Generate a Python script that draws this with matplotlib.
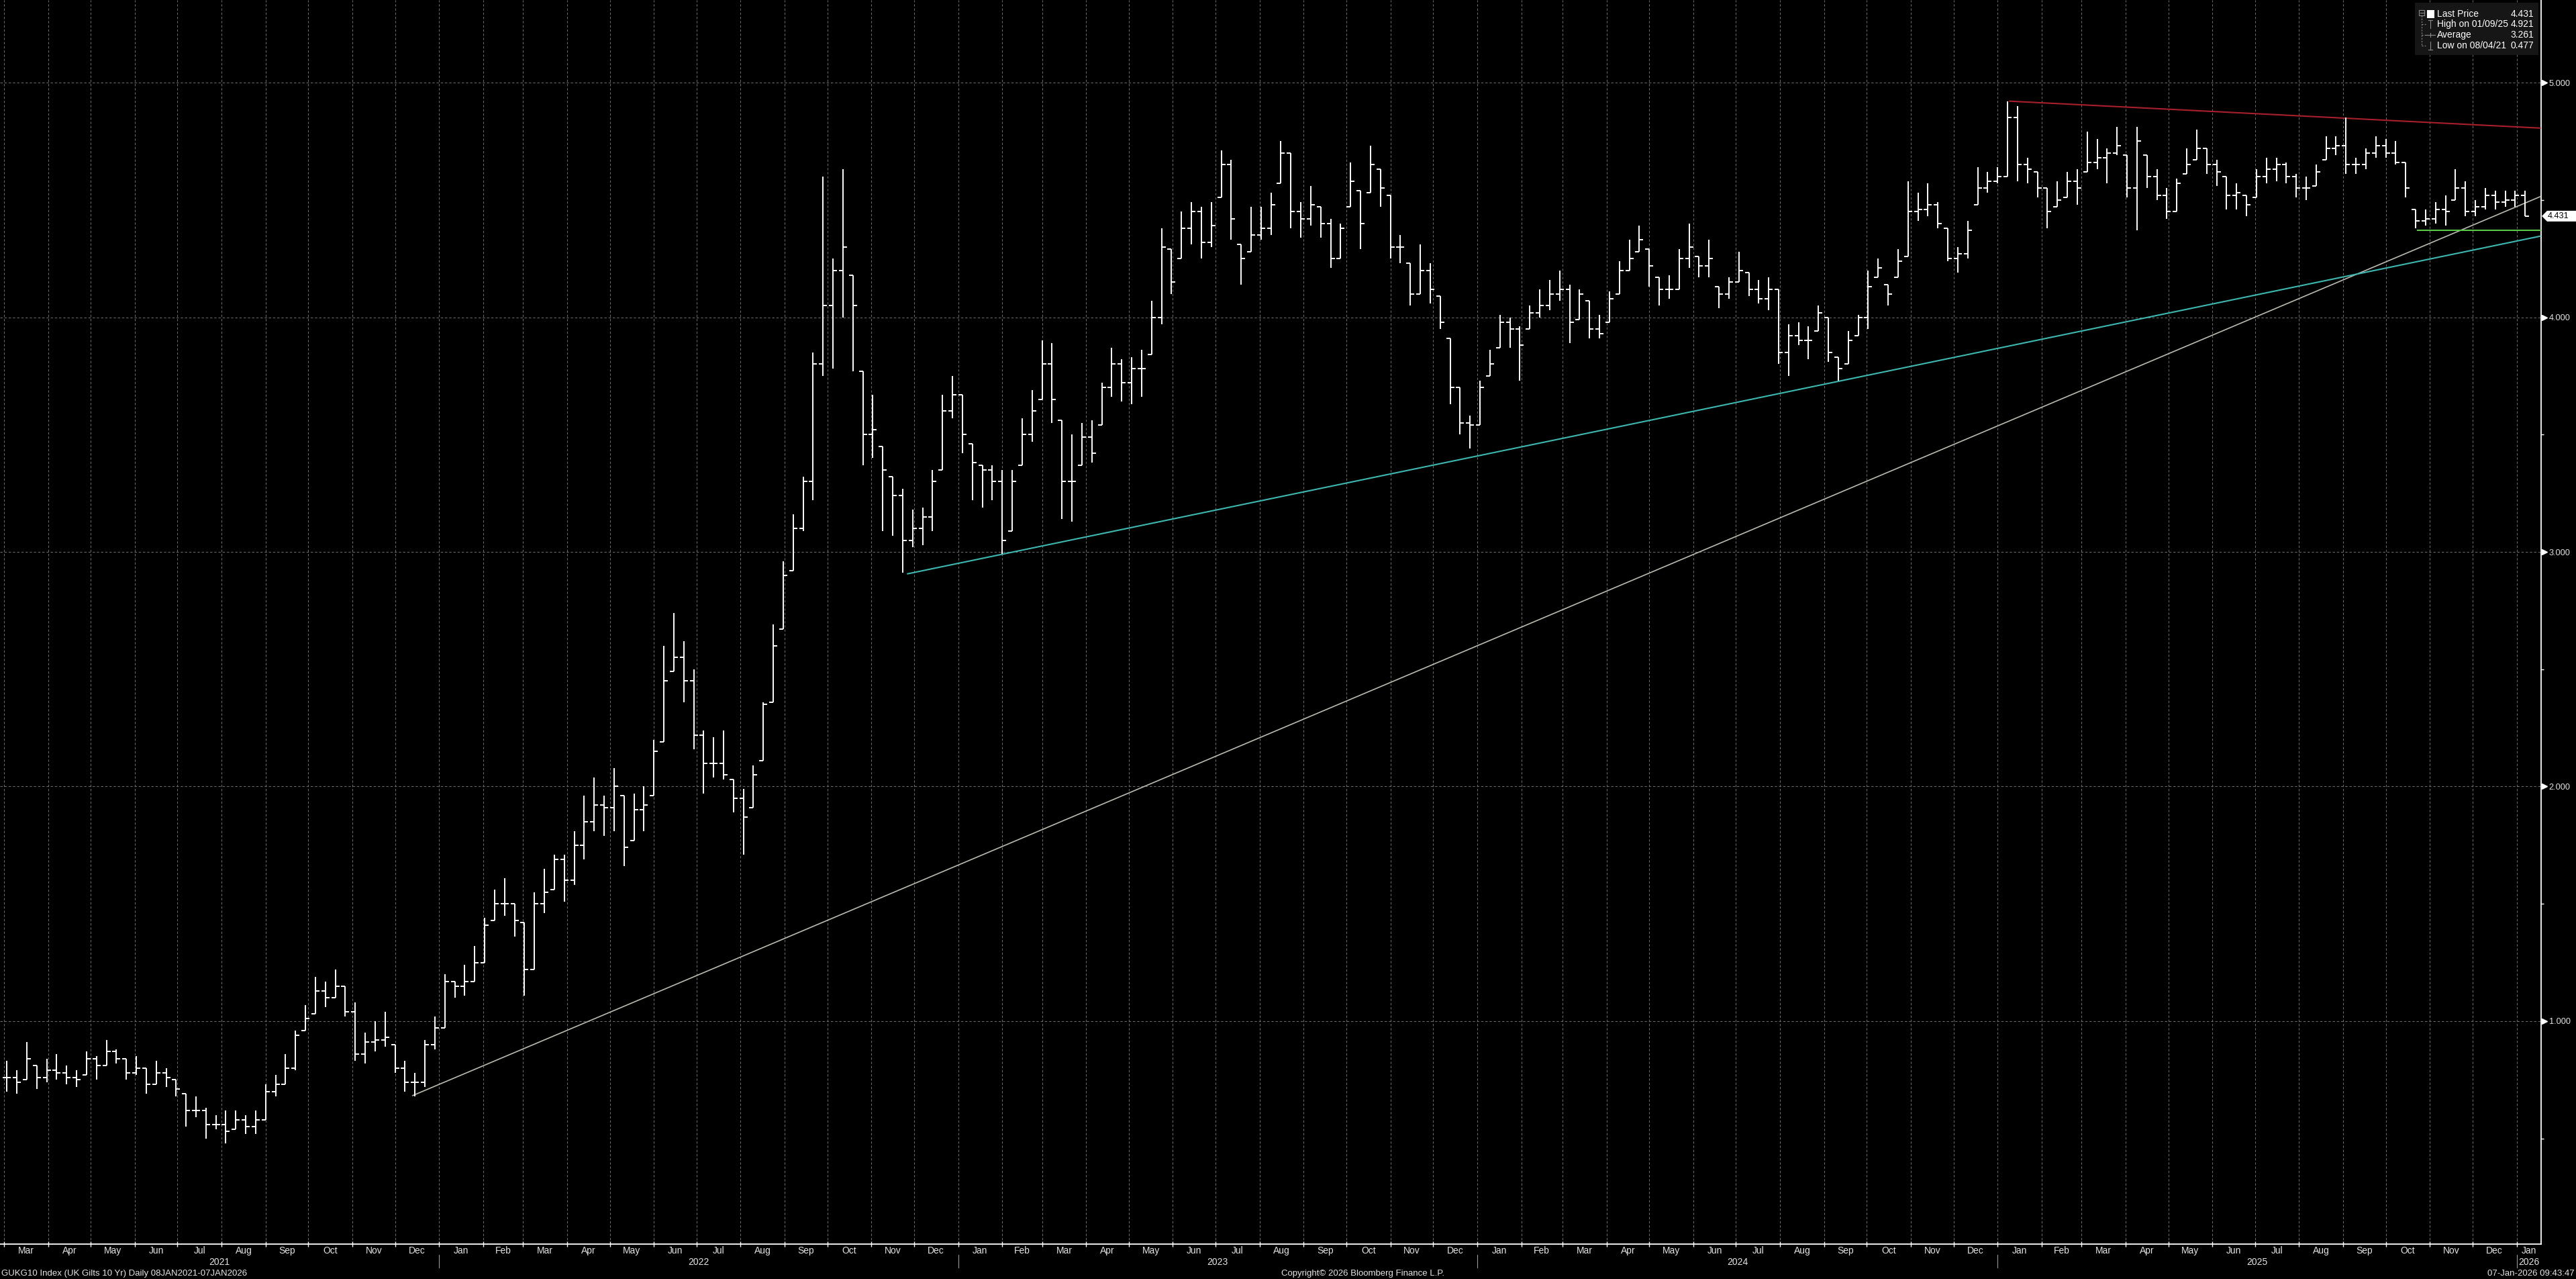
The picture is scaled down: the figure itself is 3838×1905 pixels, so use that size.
import numpy as np
import pandas as pd
import matplotlib
matplotlib.use("Agg")
import matplotlib.pyplot as plt
import matplotlib.dates as mdates
from matplotlib.transforms import blended_transform_factory
from matplotlib.patches import Rectangle, Polygon
from matplotlib.lines import Line2D

plt.rcParams['lines.scale_dashes'] = False

# ---------------- data (weekly OHLC; weeks start Monday) -------------
first_week = "2021-03-01"

hi_2021 = [0.83, 0.79, 0.91, 0.81, 0.84, 0.86, 0.81, 0.79, 0.87, 0.85, 0.92, 0.88, 0.84, 0.85,
           0.80, 0.83, 0.80, 0.75, 0.69, 0.68, 0.63, 0.60, 0.62, 0.62, 0.60, 0.62, 0.73,
           0.77, 0.86, 0.96, 1.07, 1.19, 1.17, 1.22, 1.15, 1.08, 0.95, 1.00, 1.04, 0.90,
           0.83, 0.78, 0.92, 1.02]
lo_2021 = [0.70, 0.69, 0.75, 0.71, 0.74, 0.75, 0.73, 0.72, 0.77, 0.75, 0.81, 0.82, 0.75, 0.77,
           0.69, 0.73, 0.72, 0.68, 0.55, 0.59, 0.50, 0.54, 0.48, 0.54, 0.52, 0.52, 0.58,
           0.68, 0.73, 0.79, 0.96, 1.03, 1.06, 1.10, 1.02, 0.83, 0.82, 0.87, 0.89, 0.78,
           0.70, 0.68, 0.72, 0.88]
cl_2021 = [0.76, 0.74, 0.84, 0.76, 0.79, 0.78, 0.76, 0.75, 0.84, 0.81, 0.87, 0.84, 0.78, 0.80,
           0.73, 0.78, 0.76, 0.71, 0.62, 0.62, 0.56, 0.56, 0.53, 0.58, 0.55, 0.58, 0.70,
           0.73, 0.80, 0.94, 1.01, 1.13, 1.10, 1.15, 1.04, 0.86, 0.91, 0.92, 0.93, 0.80,
           0.74, 0.74, 0.90, 0.97]

hi_2022 = [1.20, 1.17, 1.24, 1.32, 1.44, 1.56, 1.61, 1.50, 1.42, 1.55, 1.65, 1.71, 1.71,
           1.81, 1.96, 2.04, 1.96, 2.08, 1.96, 1.97, 2.00, 2.20, 2.60, 2.74, 2.62, 2.50,
           2.24, 2.21, 2.24, 2.03, 1.99, 2.09, 2.36, 2.69, 2.96, 3.16, 3.32, 3.85, 4.60,
           4.25, 4.63, 4.18, 3.77, 3.67, 3.45, 3.32, 3.27, 3.18, 3.19, 3.35, 3.67, 3.75]
lo_2022 = [0.97, 1.10, 1.11, 1.17, 1.25, 1.43, 1.45, 1.36, 1.11, 1.22, 1.46, 1.56, 1.51,
           1.58, 1.69, 1.81, 1.79, 1.81, 1.66, 1.77, 1.81, 1.96, 2.19, 2.49, 2.36, 2.16,
           1.97, 2.04, 2.03, 1.89, 1.71, 1.91, 2.11, 2.36, 2.67, 2.92, 3.09, 3.22, 3.75,
           3.78, 4.00, 3.77, 3.37, 3.40, 3.09, 3.07, 2.91, 3.02, 3.03, 3.09, 3.35, 3.57]
cl_2022 = [1.17, 1.15, 1.17, 1.25, 1.41, 1.50, 1.50, 1.43, 1.22, 1.50, 1.55, 1.69, 1.60,
           1.75, 1.85, 1.92, 1.91, 2.00, 1.74, 1.90, 1.92, 2.15, 2.45, 2.55, 2.45, 2.22,
           2.10, 2.10, 2.05, 1.95, 1.87, 2.05, 2.35, 2.60, 2.90, 3.10, 3.30, 3.80, 4.05,
           4.20, 4.30, 4.05, 3.50, 3.52, 3.35, 3.24, 3.05, 3.10, 3.15, 3.30, 3.60, 3.67]

hi_2023 = [3.67, 3.46, 3.37, 3.37, 3.35, 3.35, 3.57, 3.69, 3.90, 3.89, 3.56, 3.50, 3.55,
           3.56, 3.72, 3.87, 3.82, 3.83, 3.86, 4.07, 4.38, 4.29, 4.45, 4.49, 4.47, 4.49,
           4.71, 4.67, 4.31, 4.47, 4.47, 4.53, 4.75, 4.70, 4.49, 4.56, 4.47, 4.42, 4.40,
           4.66, 4.54, 4.73, 4.63, 4.52, 4.35, 4.23, 4.31, 4.23, 4.09, 3.91, 3.70, 3.58]
lo_2023 = [3.42, 3.22, 3.19, 3.22, 2.99, 3.09, 3.37, 3.47, 3.65, 3.55, 3.14, 3.13, 3.37,
           3.38, 3.54, 3.66, 3.64, 3.63, 3.66, 3.84, 3.97, 4.10, 4.25, 4.31, 4.25, 4.30,
           4.51, 4.33, 4.14, 4.28, 4.33, 4.35, 4.57, 4.38, 4.34, 4.39, 4.34, 4.21, 4.25,
           4.47, 4.29, 4.53, 4.47, 4.25, 4.23, 4.05, 4.10, 4.06, 3.95, 3.63, 3.50, 3.44]
cl_2023 = [3.50, 3.38, 3.35, 3.30, 3.05, 3.30, 3.50, 3.60, 3.80, 3.65, 3.30, 3.30, 3.49,
           3.42, 3.70, 3.80, 3.72, 3.78, 3.78, 4.00, 4.30, 4.15, 4.38, 4.45, 4.32, 4.39,
           4.65, 4.42, 4.25, 4.35, 4.38, 4.48, 4.70, 4.45, 4.42, 4.48, 4.40, 4.25, 4.38,
           4.58, 4.40, 4.65, 4.55, 4.30, 4.30, 4.10, 4.20, 4.12, 3.98, 3.70, 3.55, 3.54]

hi_2024 = [3.73, 3.86, 4.01, 4.00, 3.96, 4.05, 4.12, 4.16, 4.20, 4.14, 4.12, 4.07, 4.01,
           4.11, 4.24, 4.33, 4.39, 4.29, 4.17, 4.18, 4.29, 4.40, 4.26, 4.33, 4.13, 4.17,
           4.28, 4.19, 4.16, 4.17, 4.12, 3.97, 3.98, 3.96, 4.05, 4.00, 3.83, 3.94, 4.01,
           4.20, 4.25, 4.14, 4.29, 4.58, 4.53, 4.57, 4.49, 4.38, 4.30, 4.41, 4.64, 4.62, 4.64]
lo_2024 = [3.54, 3.75, 3.87, 3.87, 3.73, 3.95, 4.00, 4.03, 4.07, 3.89, 3.99, 3.91, 3.91,
           3.98, 4.10, 4.20, 4.28, 4.13, 4.05, 4.08, 4.12, 4.21, 4.17, 4.17, 4.04, 4.08,
           4.15, 4.09, 4.06, 4.03, 3.80, 3.75, 3.88, 3.82, 3.94, 3.81, 3.73, 3.80, 3.92,
           3.95, 4.17, 4.05, 4.17, 4.26, 4.41, 4.43, 4.38, 4.24, 4.19, 4.25, 4.48, 4.53, 4.57]
cl_2024 = [3.70, 3.80, 3.98, 3.95, 3.88, 4.02, 4.05, 4.10, 4.12, 3.98, 4.10, 3.95, 3.93,
           4.08, 4.20, 4.25, 4.33, 4.22, 4.12, 4.12, 4.25, 4.30, 4.22, 4.25, 4.10, 4.15,
           4.20, 4.12, 4.08, 4.12, 3.85, 3.92, 3.90, 3.90, 4.02, 3.85, 3.78, 3.90, 4.00,
           4.13, 4.21, 4.10, 4.24, 4.45, 4.46, 4.48, 4.40, 4.25, 4.27, 4.37, 4.55, 4.58, 4.60]

hi_2025 = [4.92, 4.90, 4.68, 4.62, 4.55, 4.58, 4.62, 4.63, 4.79, 4.76, 4.72, 4.81, 4.69,
           4.81, 4.69, 4.63, 4.55, 4.59, 4.72, 4.80, 4.72, 4.67, 4.60, 4.57, 4.52, 4.63,
           4.68, 4.68, 4.66, 4.61, 4.60, 4.65, 4.77, 4.77, 4.85, 4.68, 4.72, 4.77, 4.76,
           4.75, 4.66, 4.46, 4.46, 4.49, 4.52, 4.63, 4.58, 4.50, 4.55, 4.54, 4.54, 4.54]
lo_2025 = [4.60, 4.58, 4.57, 4.51, 4.38, 4.47, 4.51, 4.48, 4.62, 4.63, 4.57, 4.69, 4.51,
           4.37, 4.55, 4.50, 4.42, 4.45, 4.61, 4.67, 4.61, 4.56, 4.46, 4.46, 4.43, 4.51,
           4.57, 4.58, 4.57, 4.51, 4.50, 4.56, 4.67, 4.69, 4.61, 4.61, 4.63, 4.68, 4.68,
           4.65, 4.51, 4.38, 4.39, 4.40, 4.39, 4.50, 4.43, 4.43, 4.46, 4.46, 4.47, 4.47]
cl_2025 = [4.85, 4.65, 4.63, 4.55, 4.45, 4.50, 4.58, 4.55, 4.66, 4.68, 4.70, 4.73, 4.55,
           4.75, 4.60, 4.52, 4.45, 4.57, 4.65, 4.72, 4.65, 4.62, 4.52, 4.53, 4.48, 4.60,
           4.63, 4.65, 4.60, 4.55, 4.55, 4.62, 4.72, 4.73, 4.65, 4.65, 4.70, 4.73, 4.70,
           4.66, 4.55, 4.41, 4.42, 4.46, 4.45, 4.55, 4.45, 4.47, 4.52, 4.49, 4.50, 4.52]

hi_2026 = [4.54]
lo_2026 = [4.43]
cl_2026 = [4.431]

# trend lines drawn on the chart: (dates, values)
trend_white_dates = ["2021-12-13", "2026-01-18"]
trend_white_vals = [0.682, 4.515]
trend_teal_dates = ["2022-11-26", "2026-01-18"]
trend_teal_vals = [2.906, 4.346]
trend_red_dates = ["2025-01-09", "2026-01-18"]
trend_red_vals = [4.921, 4.806]
trend_green_dates = ["2025-10-23", "2026-01-18"]
trend_green_vals = [4.371, 4.371]

y_ticks = [1, 2, 3, 4, 5]
y_minor = [0.5, 1.5, 2.5, 3.5, 4.5]

legend_labels = ["Last Price", "High on 01/09/25", "Average", "Low on 08/04/21"]
legend_values = ["4.431", "4.921", "3.261", "0.477"]

footer_left = "GUKG10 Index (UK Gilts 10 Yr) Daily 08JAN2021-07JAN2026"
footer_mid = "Copyright\u00a9 2026 Bloomberg Finance L.P."
footer_right = "07-Jan-2026 09:43:47"

# ---------------- assemble ----------------
hi = np.array(hi_2021 + hi_2022 + hi_2023 + hi_2024 + hi_2025 + hi_2026)
lo = np.array(lo_2021 + lo_2022 + lo_2023 + lo_2024 + lo_2025 + lo_2026)
cl = np.array(cl_2021 + cl_2022 + cl_2023 + cl_2024 + cl_2025 + cl_2026)
weeks = pd.date_range(first_week, periods=len(hi), freq="7D")
op = np.clip(np.r_[cl[0], cl[:-1]], lo, hi)
xb = mdates.date2num(weeks.to_pydatetime()) + 2

# ---------------- figure ----------------
W, H, DPI = 3838, 1905, 100
NARROW = ["Liberation Sans Narrow", "Liberation Sans", "DejaVu Sans"]
REG = ["Liberation Sans", "DejaVu Sans"]
TXT = "#e4e4e4"

fig = plt.figure(figsize=(W / DPI, H / DPI), dpi=DPI, facecolor="black")
ax_bottom_px, ax_right_px = 1853, 3786
ax = fig.add_axes([0, 1 - ax_bottom_px / H, ax_right_px / W, ax_bottom_px / H])
ax.set_facecolor("black")

x0 = mdates.date2num(pd.Timestamp("2021-03-01")) - 2.83
x1 = mdates.date2num(pd.Timestamp("2026-01-01")) + 17.2
ax.set_xlim(x0, x1)
ax.set_ylim(0.050, 5.352)

# grid + ticks
month_starts = pd.date_range("2021-03-01", "2026-01-01", freq="MS")
ax.set_xticks(mdates.date2num(month_starts.to_pydatetime()))
ax.set_xticklabels([])
ax.tick_params(axis="x", which="major", direction="inout", length=6, width=1.0,
               color="white")
ax.yaxis.tick_right()
ax.set_yticks(y_ticks)
ax.set_yticklabels([f"{v:.3f}" for v in y_ticks], fontfamily=REG, fontsize=9.2, color=TXT)
ax.set_yticks(y_minor, minor=True)
ax.tick_params(axis="y", which="major", length=0, pad=8.5)
ax.tick_params(axis="y", which="minor", length=3, width=1.0, color="white", direction="out")
ax.grid(True, which="major", color="#6a6a6a", lw=0.75, linestyle=(0, (2.5, 2.0)))
ax.set_axisbelow(True)
for s in ["top", "left"]:
    ax.spines[s].set_visible(False)
for s in ["bottom", "right"]:
    ax.spines[s].set_color("white")
    ax.spines[s].set_linewidth(1.3)

# y tick triangles
btr = blended_transform_factory(ax.transAxes, ax.transData)
ax.plot(np.full(len(y_ticks), 1 + 5 / ax_right_px), y_ticks, ls="none", marker=">",
        ms=5.5, color="white", mec="white", transform=btr, clip_on=False)

# trend lines
def tl(d, v, color, lw):
    ax.plot(mdates.date2num(pd.to_datetime(d).to_pydatetime()), v, color=color, lw=lw,
            solid_capstyle="butt", zorder=3)

tl(trend_white_dates, trend_white_vals, "#bdbab0", 1.2)
tl(trend_teal_dates, trend_teal_vals, "#3cb8b0", 1.5)
tl(trend_red_dates, trend_red_vals, "#a8202c", 1.5)
tl(trend_green_dates, trend_green_vals, "#5cc848", 1.5)

# OHLC bars
ax.vlines(xb, lo, hi, colors="white", lw=1.4, zorder=4)
ax.plot(xb, op, ls="none", marker=0, ms=4.6, mew=1.4, color="white", zorder=4)
ax.plot(xb, cl, ls="none", marker=1, ms=4.6, mew=1.4, color="white", zorder=4)

# month / year labels under the axis
bx = blended_transform_factory(ax.transData, ax.transAxes)
all_months = pd.date_range("2021-03-01", "2026-02-01", freq="MS")
for i in range(len(all_months) - 1):
    a = max(mdates.date2num(all_months[i]), x0)
    b = min(mdates.date2num(all_months[i + 1]), x1)
    ax.text((a + b) / 2, -(1863 - ax_bottom_px) / ax_bottom_px, all_months[i].strftime("%b"),
            transform=bx, ha="center", va="center", fontsize=10, color=TXT,
            fontfamily=NARROW, clip_on=False)
for y in range(2021, 2027):
    a = max(mdates.date2num(pd.Timestamp(f"{y}-01-01")), x0)
    b = min(mdates.date2num(pd.Timestamp(f"{y + 1}-01-01")), x1)
    ax.text((a + b) / 2, -(1880 - ax_bottom_px) / ax_bottom_px, str(y), transform=bx,
            ha="center", va="center", fontsize=10, color=TXT, fontfamily=NARROW,
            clip_on=False)
    if y > 2021:
        xs = mdates.date2num(pd.Timestamp(f"{y}-01-01"))
        ax.plot([xs, xs], [-(1869 - ax_bottom_px) / ax_bottom_px,
                           -(1888 - ax_bottom_px) / ax_bottom_px],
                transform=bx, color="#9a9a9a", lw=0.8, clip_on=False)

# footer
fy = 1 - 1897 / H
fig.text(2 / W, fy, footer_left, ha="left", va="center", fontsize=9.5, color=TXT,
         fontfamily=NARROW)
fig.text(2030 / W, fy, footer_mid, ha="center", va="center", fontsize=9.5, color=TXT,
         fontfamily=NARROW)
fig.text(3836 / W, fy, footer_right, ha="right", va="center", fontsize=9.5, color=TXT,
         fontfamily=NARROW)

# last price tag
last = cl[-1]
bt = blended_transform_factory(fig.transFigure, ax.transData)
hh = 8 / 349.5
tag = Polygon([(3787 / W, last), (3795 / W, last + hh), (1.0, last + hh), (1.0, last - hh),
               (3795 / W, last - hh)], closed=True, facecolor="white", edgecolor="none",
              transform=bt, clip_on=False, zorder=6)
ax.add_patch(tag)
ax.text(3812 / W, last, f"{last:.3f}", transform=bt, ha="center", va="center",
        fontsize=9.2, color="black", fontfamily=REG, clip_on=False, zorder=7)

# legend box (pixel layout)
def fx(px):
    return px / W

def fyp(py):
    return 1 - py / H

fig.add_artist(Rectangle((fx(3598), fyp(82)), fx(184), 78 / H, transform=fig.transFigure,
                         facecolor="#161616", edgecolor="none", zorder=8))
rows = [21, 36, 52, 68]
for r, lab, val in zip(rows, legend_labels, legend_values):
    fig.text(fx(3631), fyp(r), lab, ha="left", va="center", fontsize=10, color="white",
             fontfamily=REG, zorder=9)
    fig.text(fx(3775), fyp(r), val, ha="right", va="center", fontsize=10, color="white",
             fontfamily=REG, zorder=9)
gray = "#8a8a8a"

def seg(xa, ya, xb_, yb_, color=gray, lw=0.8, ls="-"):
    fig.add_artist(Line2D([fx(xa), fx(xb_)], [fyp(ya), fyp(yb_)], transform=fig.transFigure,
                          color=color, lw=lw, ls=ls, zorder=9))

# tree
fig.add_artist(Rectangle((fx(3604), fyp(23)), fx(8), 8 / H, transform=fig.transFigure,
                         facecolor="none", edgecolor=gray, lw=0.8, zorder=9))
seg(3605.5, 19, 3610.5, 19)
seg(3608, 23, 3608, 68, ls=(0, (1.5, 1.5)))
for r in rows[1:]:
    seg(3608, r, 3614, r, ls=(0, (1.5, 1.5)))
# icons
fig.add_artist(Rectangle((fx(3616), fyp(27)), fx(11), 12 / H, transform=fig.transFigure,
                         facecolor="white", edgecolor="none", zorder=9))
seg(3621, 30, 3621, 42)
seg(3618, 30, 3624, 30)
seg(3614, 52, 3628, 52)
seg(3621, 49, 3621, 55)
seg(3621, 62, 3621, 74)
seg(3618, 74, 3624, 74)

fig.savefig("out.png", dpi=DPI, facecolor="black")
